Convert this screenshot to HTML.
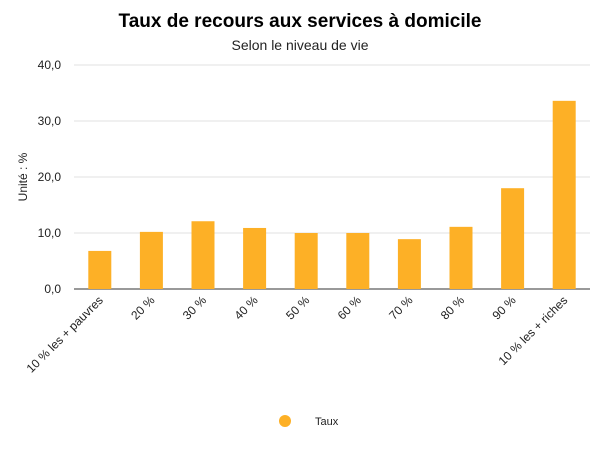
<!DOCTYPE html>
<html><head><meta charset="utf-8"><style>
body{margin:0;background:#fff;font-family:"Liberation Sans",Arial,sans-serif}
svg text{font-family:"Liberation Sans",Arial,sans-serif}
</style></head><body>
<svg width="600" height="450" viewBox="0 0 600 450">
<rect width="600" height="450" fill="#fff"/>
<text x="300" y="27" text-anchor="middle" font-size="19" font-weight="bold" fill="#000">Taux de recours aux services à domicile</text>
<text x="300" y="50" text-anchor="middle" font-size="14" fill="#222">Selon le niveau de vie</text>
<text transform="translate(27,177) rotate(-90)" text-anchor="middle" font-size="12" fill="#222">Unité : %</text>
<g id="grid"></g><g id="bars"></g><g id="xl"></g>
<circle cx="285" cy="421" r="6" fill="#FDB026"/>
<text x="315" y="425" font-size="11" fill="#222">Taux</text>
</svg>
<script>
const categories=["10 % les + pauvres","20 %","30 %","40 %","50 %","60 %","70 %","80 %","90 %","10 % les + riches"];
const values=[6.8,10.2,12.1,10.9,10.0,10.0,8.9,11.1,18.0,33.6];
const ticks=[0,10,20,30,40];
const tickLabels=["0,0","10,0","20,0","30,0","40,0"];
const NS="http://www.w3.org/2000/svg";
const x0=74,x1=590,y0=289,ymax=40,ytop=65;
const bw=(x1-x0)/categories.length;
const y=v=>y0-(v/ymax)*(y0-ytop);
const xc=i=>x0+bw*(i+0.5);
function mk(t,a,p){const e=document.createElementNS(NS,t);for(const k in a)e.setAttribute(k,a[k]);p.appendChild(e);return e;}
const g=document.getElementById('grid');
ticks.forEach((t,i)=>{
 const l=mk('line',{x1:x0,x2:x1,y1:y(t),y2:y(t),stroke:t===0?'#333':'#e0e0e0','stroke-width':1},g);
 
 
 const tx=mk('text',{x:61,y:y(t)+4,'text-anchor':'end','font-size':12,fill:'#222'},g);
 tx.textContent=tickLabels[i];
 
 
});
const b=document.getElementById('bars'),xl=document.getElementById('xl');
values.forEach((v,i)=>{
 const w=23;
 const r=mk('rect',{x:xc(i)-w/2,y:y(v),width:w,height:y0-y(v),fill:'#FDB026'},b);
 
 
 const t=mk('text',{transform:`translate(${xc(i)+4},${y0+12}) rotate(-45)`,'text-anchor':'end','font-size':12,fill:'#222'},xl);
 t.textContent=categories[i];
 
 
});
</script>
</body></html>
